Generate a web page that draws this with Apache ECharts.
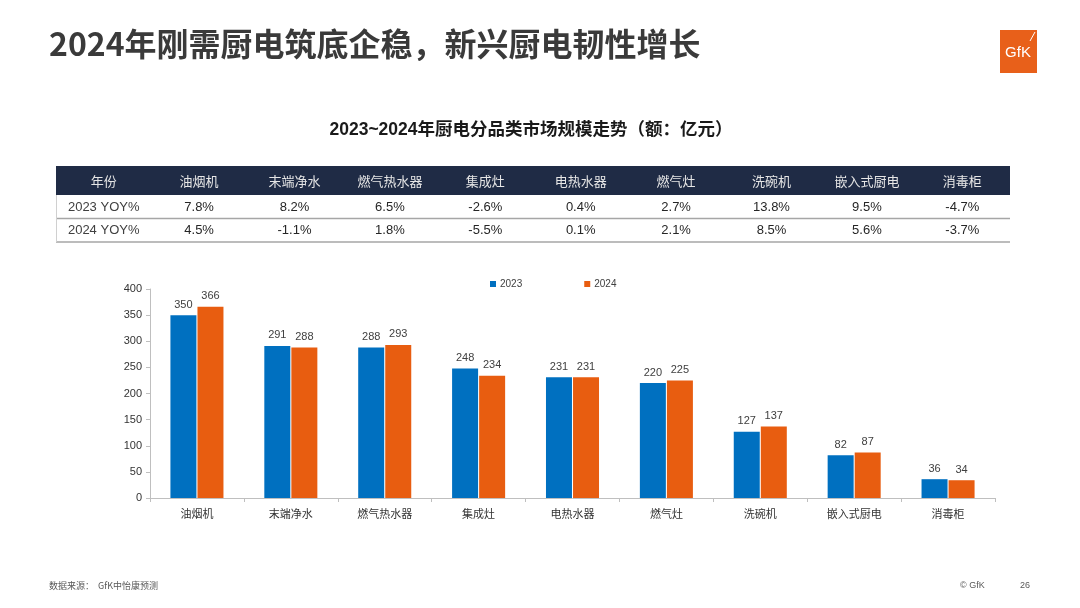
<!DOCTYPE html>
<html><head><meta charset="utf-8">
<script src="https://cdn.jsdelivr.net/npm/echarts@6/dist/echarts.min.js"></script>
<style>html,body{margin:0;padding:0;background:#fff}#c{width:1080px;height:608px}</style>
</head><body><div id="c"></div>
<script>
const categories = ['油烟机','末端净水','燃气热水器','集成灶','电热水器','燃气灶','洗碗机','嵌入式厨电','消毒柜'];
const values2023 = [350,291,288,248,231,220,127,82,36];
const values2024 = [366,288,293,234,231,225,137,87,34];
const yoy2023 = ['7.8%','8.2%','6.5%','-2.6%','0.4%','2.7%','13.8%','9.5%','-4.7%'];
const yoy2024 = ['4.5%','-1.1%','1.8%','-5.5%','0.1%','2.1%','8.5%','5.6%','-3.7%'];
const tableHeader = ['年份'].concat(categories);
const rowLabels = ['2023 YOY%','2024 YOY%'];
const yTicks = [0,50,100,150,200,250,300,350,400];

const FF = '"Liberation Sans", Arial, "Noto Sans CJK SC", sans-serif';
const BLUE = '#0070C0', ORANGE = '#E85D10';

const graphics = [];
// Title
graphics.push({type:'text', style:{text:'2024年刚需厨电筑底企稳，新兴厨电韧性增长', x:49, y:44, textVerticalAlign:'middle', font:'bold 32px "Noto Sans CJK SC", sans-serif', fill:'#3a3a3a'}});
// Logo
graphics.push({type:'rect', shape:{x:1000,y:30,width:37,height:43}, style:{fill:'#E8601A'}});
graphics.push({type:'text', style:{text:'GfK', x:1018, y:53, textAlign:'center', textVerticalAlign:'middle', font:'15px "Liberation Sans", sans-serif', fill:'#fff'}});
graphics.push({type:'line', shape:{x1:1030,y1:41,x2:1035,y2:32}, style:{stroke:'#fff', lineWidth:1}});
// Subtitle
graphics.push({type:'text', style:{text:'2023~2024年厨电分品类市场规模走势（额：亿元）', x:531, y:130, textAlign:'center', textVerticalAlign:'middle', font:'bold 17.5px "Liberation Sans", "Noto Sans CJK SC", sans-serif', fill:'#1a1a1a'}});
// Table
const tX = 56, tW = 954, colW = tW/10;
graphics.push({type:'rect', shape:{x:tX,y:166,width:tW,height:29}, style:{fill:'#1F2B45'}});
tableHeader.forEach((h,i)=>{
  graphics.push({type:'text', style:{text:h, x:tX+colW*(i+0.5), y:181, textAlign:'center', textVerticalAlign:'middle', font:'13px "Noto Sans CJK SC", sans-serif', fill:'#e6e6e6'}});
});
[yoy2023, yoy2024].forEach((row,r)=>{
  const cy = 207 + r*23;
  graphics.push({type:'text', style:{text:rowLabels[r], x:tX+colW*0.5, y:cy, textAlign:'center', textVerticalAlign:'middle', font:'13px '+FF, fill:'#404040'}});
  row.forEach((v,i)=>{
    graphics.push({type:'text', style:{text:v, x:tX+colW*(i+1.5), y:cy, textAlign:'center', textVerticalAlign:'middle', font:'13px '+FF, fill:'#262626'}});
  });
  const ly = 218.5 + r*23.5;
  graphics.push({type:'line', shape:{x1:tX,y1:ly,x2:tX+tW,y2:ly}, style:{stroke:'#a6a6a6', lineWidth:1.5}});
});
graphics.push({type:'line', shape:{x1:tX+0.5,y1:195,x2:tX+0.5,y2:242}, style:{stroke:'#d0d0d0', lineWidth:1}});
// Footer
graphics.push({type:'text', style:{text:'数据来源：  GfK中怡康预测', x:49, y:586, textVerticalAlign:'middle', font:'9px "Noto Sans CJK SC", sans-serif', fill:'#595959'}});
graphics.push({type:'text', style:{text:'© GfK', x:960, y:586, textVerticalAlign:'middle', font:'9px '+FF, fill:'#595959'}});
graphics.push({type:'text', style:{text:'26', x:1020, y:586, textVerticalAlign:'middle', font:'9px '+FF, fill:'#595959'}});

const chart = echarts.init(document.getElementById('c'), null, {renderer:'canvas'});
const labelStyle = {show:true, position:'top', distance:5, color:'#404040', fontSize:11, fontFamily:FF};
chart.setOption({
  animation:false,
  backgroundColor:'#fff',
  graphic: graphics,
  legend:{top:274, left:485, itemWidth:6, itemHeight:6, itemGap:62, icon:'rect',
    textStyle:{fontSize:10, color:'#404040', fontFamily:FF, padding:[0,0,0,-1]},
    data:['2023','2024']},
  grid:{left:150, right:85, top:289, bottom:110, containLabel:false},
  xAxis:{type:'category', data:categories,
    axisLine:{lineStyle:{color:'#bfbfbf'}},
    axisTick:{show:true, alignWithLabel:false, length:4, lineStyle:{color:'#bfbfbf'}},
    axisLabel:{color:'#333', fontSize:11, margin:10, fontFamily:'"Noto Sans CJK SC", sans-serif'}},
  yAxis:{type:'value', min:0, max:400, interval:50,
    axisLine:{show:true, lineStyle:{color:'#bfbfbf'}},
    axisTick:{show:true, length:4, lineStyle:{color:'#bfbfbf'}},
    splitLine:{show:false},
    axisLabel:{color:'#333', fontSize:11, margin:8, fontFamily:FF,
      formatter:v=>yTicks.includes(v)?String(v):''}},
  series:[
    {name:'2023', type:'bar', data:values2023, barWidth:26, barGap:'4%', itemStyle:{color:BLUE}, label:labelStyle},
    {name:'2024', type:'bar', data:values2024, barWidth:26, itemStyle:{color:ORANGE}, label:labelStyle}
  ]
});
</script></body></html>
